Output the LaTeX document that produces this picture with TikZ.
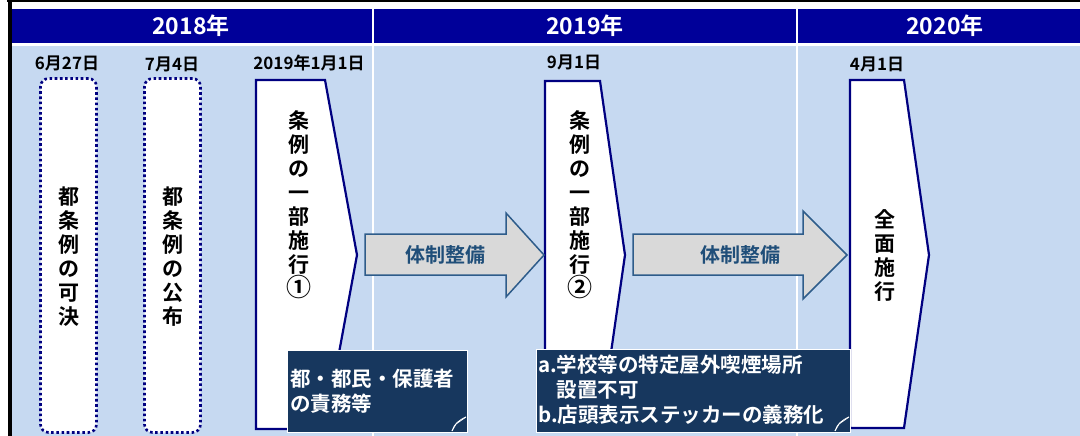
\documentclass[tikz,border=0pt]{standalone}
\usepackage{fontspec}
\newfontfamily\jp{Noto Sans CJK JP}[BoldFont={Noto Sans CJK JP Bold}]
\definecolor{hdr}{HTML}{000099}
\definecolor{bg}{HTML}{C6D9F1}
\definecolor{navy}{HTML}{000080}
\definecolor{arrfill}{HTML}{D9D9D9}
\definecolor{arrline}{HTML}{2E5C8A}
\definecolor{arrtext}{HTML}{1F4E79}
\definecolor{callfill}{HTML}{17375E}
\newcommand{\mycircnum}[1]{{\fontsize{25}{24}\selectfont #1}}
\tikzset{
  year/.style={text=white, font=\jp\bfseries\fontsize{23}{26}\selectfont, inner sep=0},
  datelbl/.style={text=black, font=\jp\bfseries\fontsize{17}{18}\selectfont, inner sep=0},
  vtext/.style={text=black, align=center, inner sep=0, font=\jp\bfseries\fontsize{21}{24}\selectfont},
  dotbox/.style={draw=navy, fill=white, line width=2.6pt, dash pattern=on 2.6pt off 2.6pt, rounded corners=8pt, minimum width=56pt, minimum height=354pt, inner sep=0},
  pent/.style={draw=navy, fill=white, line width=2.2pt, line join=miter},
  blockarrow/.style={draw=arrline, fill=arrfill, line width=1.5pt},
  arrlbl/.style={text=arrtext, font=\jp\bfseries\fontsize{20}{24}\selectfont, inner sep=0},
  callout/.style={draw=white, fill=callfill, line width=1pt},
  calltext/.style={text=white, align=left, inner sep=0, font=\jp\bfseries\fontsize{20.5}{25}\selectfont},
}
\begin{document}
\begin{tikzpicture}[x=1pt,y=-1pt]
\useasboundingbox (0,0) rectangle (1080,436);
\fill[white] (0,0) rectangle (1080,436);
% header and column cells
\fill[hdr] (12,9) rectangle (372,43);
\fill[hdr] (374,9) rectangle (796,43);
\fill[hdr] (798,9) rectangle (1080,43);
\fill[bg] (12,46) rectangle (372,436);
\fill[bg] (374,46) rectangle (796,436);
\fill[bg] (798,46) rectangle (1080,436);
\fill[black] (7,0) rectangle (1080,2.5);
\fill[black] (8,0) rectangle (11.5,436);
% year labels
\node[year] (y18) at (191,26) {2018年};
\node[year] (y19) at (585,26) {2019年};
\node[year] (y20) at (945,26) {2020年};
% date labels
\node[datelbl] (d1) at (67,63) {6月27日};
\node[datelbl] (d2) at (172,64) {7月4日};
\node[datelbl] (d3) at (309,63) {2019年1月1日};
\node[datelbl] (d4) at (574,62) {9月1日};
\node[datelbl] (d5) at (877,64) {4月1日};
% dotted boxes
\node[dotbox] (b1) at (68.5,255.5) {};
\node[vtext] (t1) at (69,257) {都\\条\\例\\の\\可\\決};
\node[dotbox] (b2) at (172.5,255.5) {};
\node[vtext] (t2) at (173,257) {都\\条\\例\\の\\公\\布};
% pentagons
\draw[pent] (256,80) -- (325,80) -- (357,255) -- (325,429) -- (256,429) -- cycle;
\node[vtext] (p1) at (299,205) {条\\例\\の\\一\\部\\施\\行\\\mycircnum{①}};
\draw[pent] (545,81) -- (600,81) -- (625,255) -- (600,429) -- (545,429) -- cycle;
\node[vtext] (p2) at (580,205) {条\\例\\の\\一\\部\\施\\行\\\mycircnum{②}};
\draw[pent] (850,80) -- (904,80) -- (929,255) -- (904,428) -- (850,428) -- cycle;
\node[vtext] (p3) at (885,255) {全\\面\\施\\行};
% block arrows
\draw[blockarrow] (365,234) -- (506,234) -- (506,213) -- (544,255) -- (506,297) -- (506,275) -- (365,275) -- cycle;
\node[arrlbl] (a1) at (445,255) {体制整備};
\draw[blockarrow] (633,234) -- (803,234) -- (803,211) -- (847,255) -- (803,299) -- (803,275) -- (633,275) -- cycle;
\node[arrlbl] (a2) at (740,255) {体制整備};
% callouts
\draw[callout] (287,350) rectangle (467,432);
\draw[white, line width=0.8pt] (452,431) .. controls (454,424) and (459,420) .. (466,417);
\draw[white, line width=0.8pt] (452,431) -- (456,424) -- (466,417);
\node[calltext, anchor=west] (c1) at (290,391) {都・都民・保護者\\の責務等};
\draw[callout] (536,349) rectangle (850,432);
\draw[white, line width=0.8pt] (835,431) .. controls (837,424) and (842,420) .. (849,417);
\draw[white, line width=0.8pt] (835,431) -- (839,424) -- (849,417);
\node[calltext, anchor=west] (c2) at (538,390) {a.学校等の特定屋外喫煙場所\\\hphantom{a.}設置不可\\b.店頭表示ステッカーの義務化};
\end{tikzpicture}
\end{document}
